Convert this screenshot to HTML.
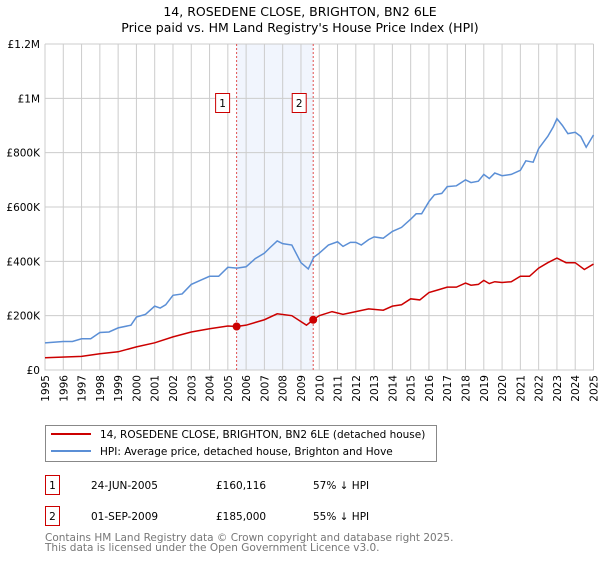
<!DOCTYPE html>
<html><head><meta charset="utf-8"><style>
body{margin:0;background:#fff;font-family:"Liberation Sans","DejaVu Sans",sans-serif;}
svg text{font-family:"DejaVu Sans","Liberation Sans",sans-serif;}
</style></head><body>
<svg id="c" width="600" height="560" xmlns="http://www.w3.org/2000/svg">
<text x="300" y="16" text-anchor="middle" font-size="12.5" fill="#000">14, ROSEDENE CLOSE, BRIGHTON, BN2 6LE</text>
<text x="300" y="32" text-anchor="middle" font-size="12.5" fill="#000">Price paid vs. HM Land Registry's House Price Index (HPI)</text>
<g id="plot"></g>
<g>
<rect x="45.5" y="425.5" width="391" height="36" fill="#fff" stroke="#888"/>
<line x1="51" y1="434" x2="91" y2="434" stroke="#cc0000" stroke-width="2"/>
<text x="100" y="438" font-size="10.5">14, ROSEDENE CLOSE, BRIGHTON, BN2 6LE (detached house)</text>
<line x1="51" y1="451" x2="91" y2="451" stroke="#5b8fd6" stroke-width="2"/>
<text x="100" y="455" font-size="10.5">HPI: Average price, detached house, Brighton and Hove</text>
</g>
<g font-size="10.5">
<rect x="45.5" y="475.5" width="14" height="19" fill="#fff" stroke="#cc0000"/>
<text x="52.5" y="489" text-anchor="middle">1</text>
<text x="91" y="489">24-JUN-2005</text><text x="216" y="489">£160,116</text><text x="313" y="489">57% ↓ HPI</text>
<rect x="45.5" y="506.5" width="14" height="19" fill="#fff" stroke="#cc0000"/>
<text x="52.5" y="520" text-anchor="middle">2</text>
<text x="91" y="520">01-SEP-2009</text><text x="216" y="520">£185,000</text><text x="313" y="520">55% ↓ HPI</text>
</g>
<text x="45" y="541" font-size="10.5" fill="#777">Contains HM Land Registry data © Crown copyright and database right 2025.</text>
<text x="45" y="551" font-size="10.5" fill="#777">This data is licensed under the Open Government Licence v3.0.</text>
</svg>
<script>
const yTicks=[0,200000,400000,600000,800000,1000000,1200000];
const yTickLabels=["£0","£200K","£400K","£600K","£800K","£1M","£1.2M"];
const years=[1995,1996,1997,1998,1999,2000,2001,2002,2003,2004,2005,2006,2007,2008,2009,2010,2011,2012,2013,2014,2015,2016,2017,2018,2019,2020,2021,2022,2023,2024,2025];
const hpiX=[1995,1996,1996.5,1997,1997.5,1998,1998.5,1999,1999.7,2000,2000.5,2001,2001.3,2001.6,2002,2002.5,2003,2003.5,2004,2004.5,2005,2005.5,2006,2006.5,2007,2007.3,2007.7,2008,2008.5,2009,2009.4,2009.7,2010,2010.5,2011,2011.3,2011.7,2012,2012.3,2012.7,2013,2013.5,2014,2014.5,2015,2015.3,2015.6,2016,2016.3,2016.7,2017,2017.5,2018,2018.3,2018.7,2019,2019.3,2019.6,2020,2020.5,2021,2021.3,2021.7,2022,2022.5,2022.8,2023,2023.3,2023.6,2024,2024.3,2024.6,2025];
const hpiY=[100,105,105,115,115,138,140,155,165,195,205,235,228,240,275,280,315,330,345,345,378,375,380,410,430,450,475,465,460,395,372,415,430,460,472,455,470,470,460,480,490,485,510,525,555,575,575,620,645,650,675,678,700,690,695,720,705,725,715,720,735,770,765,815,860,895,925,900,870,875,860,820,865];
const redX=[1995,1997,1998,1999,2000,2001,2002,2003,2004,2005,2005.48,2006,2007,2007.7,2008.5,2009.3,2009.67,2010,2010.7,2011.3,2012,2012.7,2013.5,2014,2014.5,2015,2015.5,2016,2016.5,2017,2017.5,2018,2018.3,2018.7,2019,2019.3,2019.6,2020,2020.5,2021,2021.5,2022,2022.5,2023,2023.5,2024,2024.5,2025];
const redY=[45,50,60,67,85,100,122,140,152,162,160,165,185,207,200,165,185,200,215,205,215,225,220,235,240,262,258,285,295,305,305,320,312,315,330,318,325,322,325,345,345,375,395,412,395,395,370,390];
const salesX=[2005.48,2009.67];
const salesY=[160116,185000];
const salesLabels=["1","2"];
const L=45,R=593.5,T=44,B=370;
const X=v=>L+(v-1995)/30*(R-L);
const Y=v=>B-v/1200000*(B-T);
const NS="http://www.w3.org/2000/svg";
const g=document.getElementById('plot');
function mk(t,a){const e=document.createElementNS(NS,t);for(const k in a)e.setAttribute(k,a[k]);g.appendChild(e);return e;}
const sh=mk('rect',{x:X(salesX[0]),y:T,width:X(salesX[1])-X(salesX[0]),height:B-T,fill:'#eef3fd',opacity:0.8});


years.forEach(y=>{const l=mk('line',{x1:X(y),x2:X(y),y1:T,y2:B,stroke:'#ccc','stroke-width':1});


const t=mk('text',{x:0,y:0,'font-size':10.5,'text-anchor':'end',transform:`translate(${X(y)+4},${B+5}) rotate(-90)`});t.textContent=y;

});
yTicks.forEach((v,i)=>{const l=mk('line',{x1:L,x2:R,y1:Y(v),y2:Y(v),stroke:'#ccc','stroke-width':1});


const t=mk('text',{x:L-5,y:Y(v)+4,'font-size':10.5,'text-anchor':'end'});t.textContent=yTickLabels[i];

});
const ax=mk('path',{d:`M${L},${T}V${B}H${R}V${T}`,fill:'none',stroke:'#ccc'});


salesX.forEach((s,i)=>{const l=mk('line',{x1:X(s),x2:X(s),y1:T,y2:B,stroke:'#e05050','stroke-dasharray':'2,2','stroke-width':1});


const r=mk('rect',{x:X(s)-21,y:93.5,width:14,height:19,fill:'#fff',stroke:'#cc0000'});


const t=mk('text',{x:X(s)-14,y:107,'font-size':10.5,'text-anchor':'middle'});t.textContent=salesLabels[i];

});
const hp=mk('polyline',{points:hpiX.map((x,i)=>X(x)+','+Y(hpiY[i]*1000)).join(' '),fill:'none',stroke:'#5b8fd6','stroke-width':1.5});


const rp=mk('polyline',{points:redX.map((x,i)=>X(x)+','+Y(redY[i]*1000)).join(' '),fill:'none',stroke:'#cc0000','stroke-width':1.5});


salesX.forEach((s,i)=>{const c=mk('circle',{cx:X(s),cy:Y(salesY[i]),r:4,fill:'#cc0000'});

});
</script>
</body></html>
